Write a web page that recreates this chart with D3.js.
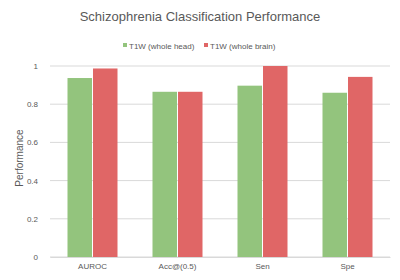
<!DOCTYPE html>
<html>
<head>
<meta charset="utf-8">
<script src="https://cdn.jsdelivr.net/npm/d3@7"></script>
<style>
  body { margin: 0; background: #fff; }
  text { font-family: "Liberation Sans", Arial, sans-serif; fill: #595959; }
</style>
</head>
<body>
<script>
const categories = ['AUROC', 'Acc@(0.5)', 'Sen', 'Spe'];
const seriesNames = ['T1W (whole head)', 'T1W (whole brain)'];
const headValues = [0.937, 0.865, 0.897, 0.86];
const brainValues = [0.987, 0.865, 1.0, 0.943];
const yTicks = [0, 0.2, 0.4, 0.6, 0.8, 1];
const colors = ['#93c47d', '#e06666'];

function plot()
{
    const W = 400, H = 280;
    const left = 50, right = 390, top = 66, bottom = 257;
    const svg = d3.select('body').append('svg')
        .attr('width', W).attr('height', H);

    const x = d3.scaleBand().domain(categories).range([left, right]);
    const xs = d3.scaleBand().domain([0, 1]).range([0, 50]).paddingInner(0.04);
    const y = d3.scaleLinear().domain([0, 1]).range([bottom, top]);

    // gridlines
    svg.append('g').selectAll('line').data(yTicks).enter().append('line')
        .attr('x1', left).attr('x2', right)
        .attr('y1', d => y(d)).attr('y2', d => y(d))
        .attr('stroke', '#d9d9d9').attr('stroke-width', 1);

    const yAxis = svg.append('g')
        .attr('transform', `translate(${left},0)`)
        .call(d3.axisLeft(y).tickValues(yTicks).tickFormat(d3.format('~g')).tickSize(0).tickPadding(12));
    yAxis.select('.domain').remove();
    yAxis.selectAll('text').style('font-size', '8px').style('fill', '#595959');

    const data = categories.map((c, i) => ({c, v: [headValues[i], brainValues[i]]}));
    const groups = svg.append('g').selectAll('g').data(data).enter().append('g')
        .attr('transform', d => `translate(${x(d.c) + (x.bandwidth() - 50) / 2},0)`);
    groups.selectAll('rect').data(d => d.v.map((v, k) => ({v, k}))).enter().append('rect')
        .attr('x', d => xs(d.k))
        .attr('width', xs.bandwidth())
        .attr('y', d => y(d.v))
        .attr('height', d => y(0) - y(d.v))
        .attr('fill', d => colors[d.k]);

    const xAxis = svg.append('g')
        .attr('transform', `translate(0,${bottom})`)
        .call(d3.axisBottom(x).tickSize(0).tickPadding(6));
    xAxis.select('.domain').attr('stroke', '#d9d9d9');
    xAxis.selectAll('text').style('font-size', '8px').style('fill', '#595959');

    svg.append('text')
        .attr('x', 200).attr('y', 21)
        .attr('text-anchor', 'middle')
        .style('font-size', '13px')
        .text('Schizophrenia Classification Performance');

    svg.append('text')
        .attr('transform', `translate(23,158) rotate(-90)`)
        .attr('text-anchor', 'middle')
        .style('font-size', '10px')
        .text('Performance');

    const legendX = [123, 204];
    const lg = svg.append('g').selectAll('g').data(seriesNames).enter().append('g')
        .attr('transform', (d, i) => `translate(${legendX[i]},46)`);
    lg.append('rect').attr('x', 0).attr('y', -3).attr('width', 4).attr('height', 4)
        .attr('fill', (d, i) => colors[i]);
    lg.append('text').attr('x', 6).attr('y', 2.5)
        .style('font-size', '8px')
        .text(d => d);
}

plot();
</script>
</body>
</html>
